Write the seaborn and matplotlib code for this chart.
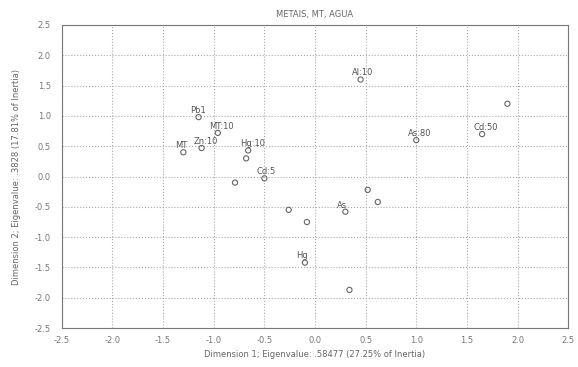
import pandas as pd
import numpy as np
import seaborn as sns
import matplotlib
matplotlib.use('Agg')
import matplotlib.pyplot as plt

# Correspondence analysis, column/row coordinates
labels = ['Al:10', 'As:80', 'Cd:50', '', 'Pb1', 'MT:10', 'Zn:10', 'MT', 'Hg:10', '',
          'Cd:5', '', '', '', 'As', '', '', 'Hg', '']
dim1 = [0.45, 1.00, 1.65, 1.90, -1.15, -0.96, -1.12, -1.30, -0.66, -0.68,
        -0.50, -0.79, -0.26, -0.08, 0.30, 0.52, 0.62, -0.10, 0.34]
dim2 = [1.60, 0.60, 0.70, 1.20, 0.98, 0.72, 0.47, 0.40, 0.43, 0.30,
        -0.03, -0.10, -0.55, -0.75, -0.58, -0.22, -0.42, -1.42, -1.87]

ticks = [-2.5, -2.0, -1.5, -1.0, -0.5, 0.0, 0.5, 1.0, 1.5, 2.0, 2.5]

data = pd.DataFrame({'Dim1': dim1, 'Dim2': dim2, 'Label': labels})

sns.set_style('white')
plt.rcParams['font.family'] = ['DejaVu Sans']

fig = plt.figure(figsize=(5.78, 3.67), dpi=100)
ax = fig.add_axes([0.107, 0.106, 0.876, 0.826])

sns.scatterplot(data=data, x='Dim1', y='Dim2', ax=ax, marker='o', s=14,
                facecolor='none', edgecolor='#666666', linewidth=0.8, legend=False)

# point labels, up and right of the marker
for _, row in data.iterrows():
    if row['Label']:
        ax.annotate(row['Label'], (row['Dim1'], row['Dim2']), xytext=(-6, 3),
                    textcoords='offset points', fontsize=6, color='#555555')

ax.set_xlim(-2.5, 2.5)
ax.set_ylim(-2.5, 2.5)
ax.set_xticks(ticks)
ax.set_yticks(ticks)
ax.set_xticklabels([f'{t:.1f}' for t in ticks])
ax.set_yticklabels([f'{t:.1f}' for t in ticks])
ax.tick_params(labelsize=6, colors='#777777', length=2)
ax.tick_params(axis='y', pad=6)
ax.grid(True, linestyle=':', color='#aaaaaa', linewidth=0.8)
for sp in ax.spines.values():
    sp.set_color('#777777')
    sp.set_linewidth(0.8)

ax.set_title('METAIS, MT, AGUA', fontsize=6, color='#666666', pad=6)
ax.set_xlabel('Dimension 1; Eigenvalue: .58477 (27.25% of Inertia)', fontsize=6, color='#666666')
ax.set_ylabel('Dimension 2; Eigenvalue: .3828 (17.81% of Inertia)', fontsize=6,
              color='#666666', labelpad=10)

fig.savefig('out.png', dpi=100)
